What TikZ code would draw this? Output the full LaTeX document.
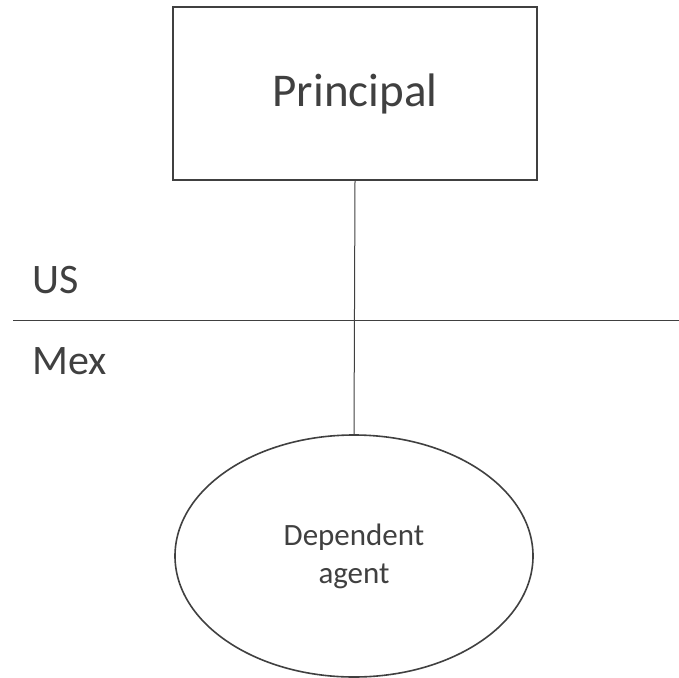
\documentclass[tikz,border=0pt]{standalone}
\usepackage{fontspec}
\setmainfont{Carlito}
\usetikzlibrary{shapes.geometric}
\definecolor{ink}{HTML}{404040}
\begin{document}
\begin{tikzpicture}[x=1pt,y=-1pt,
  boxshape/.style={draw=ink,line width=2pt,rectangle,minimum width=364pt,minimum height=173pt,inner sep=0pt,text=ink,font=\fontsize{47}{56}\selectfont},
  ellshape/.style={draw=ink,line width=1.6pt,ellipse,minimum width=358pt,minimum height=242pt,inner sep=0pt,text=ink,align=center,font=\fontsize{31}{38}\selectfont},
  lbl/.style={text=ink,anchor=base west,inner sep=0pt,font=\fontsize{42}{50}\selectfont},
  conn/.style={draw=ink,line width=1pt}]
\useasboundingbox (0,0) rectangle (679,677);
\node[boxshape] (prin) at (355,93.5) {Principal};
\node[ellshape] (dep) at (354,556) {Dependent\\agent};
\coordinate (hl) at (13,320);
\coordinate (hr) at (679,320);
\draw[conn] (prin.south) -- (dep.north);
\draw[conn] (hl) -- (hr);
\node[lbl] (us) at (32,293) {US};
\node[lbl] (mex) at (32,374) {Mex};
\end{tikzpicture}
\end{document}
